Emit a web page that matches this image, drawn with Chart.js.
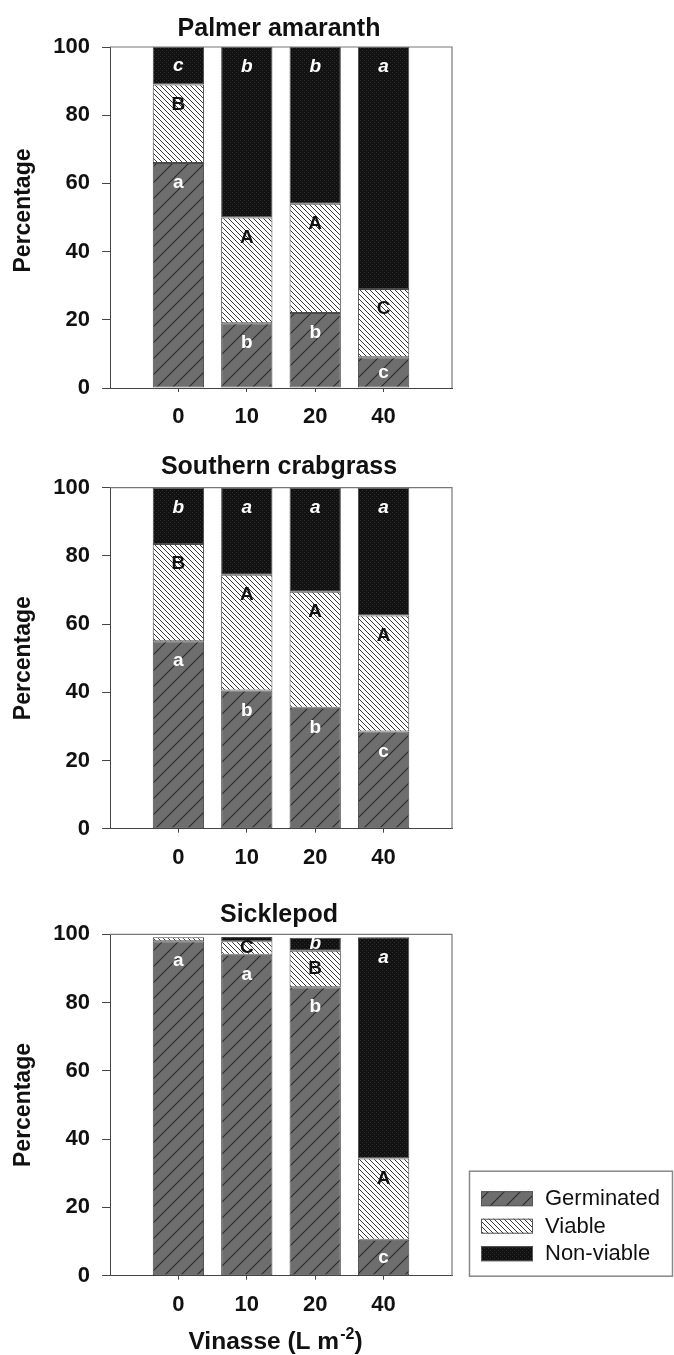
<!DOCTYPE html>
<html>
<head>
<meta charset="utf-8">
<script src="https://cdn.jsdelivr.net/npm/chart.js@4/dist/chart.umd.min.js"></script>
<style>
  html, body { margin: 0; padding: 0; background: #fff; }
  body { width: 674px; height: 1355px; position: relative; overflow: hidden; }
  canvas { position: absolute; left: 0; display: block; }
</style>
</head>
<body>
<canvas id="c1" width="674" height="440" style="top:0px"></canvas>
<canvas id="c2" width="674" height="440" style="top:440px"></canvas>
<canvas id="c3" width="674" height="475" style="top:880px"></canvas>
<script>
// ---------------- DATA ----------------
const categories = ['0', '10', '20', '40'];
const seriesNames = ['Germinated', 'Viable', 'Non-viable'];
const panelTitles = ['Palmer amaranth', 'Southern crabgrass', 'Sicklepod'];
const yAxisTitle = 'Percentage';
const xAxisTitleMain = 'Vinasse (L m';
const xAxisTitleSup = '-2';
const xAxisTitleEnd = ')';

const palmerGerminated = [66, 19, 22, 9];
const palmerViable = [23, 31, 32, 20];
const palmerNonViable = [11, 50, 46, 71];
const palmerGerminatedLetters = ['a', 'b', 'b', 'c'];
const palmerViableLetters = ['B', 'A', 'A', 'C'];
const palmerNonViableLetters = ['c', 'b', 'b', 'a'];

const crabgrassGerminated = [55, 40.5, 35.5, 28.5];
const crabgrassViable = [28.5, 34, 34, 34];
const crabgrassNonViable = [16.5, 25.5, 30.5, 37.5];
const crabgrassGerminatedLetters = ['a', 'b', 'b', 'c'];
const crabgrassViableLetters = ['B', 'A', 'A', 'A'];
const crabgrassNonViableLetters = ['b', 'a', 'a', 'a'];

const sicklepodGerminated = [98, 94, 84.5, 10.5];
const sicklepodViable = [1.1, 4, 10.7, 23.8];
const sicklepodNonViable = [0, 1.2, 3.8, 64.8];
const sicklepodGerminatedLetters = ['a', 'a', 'b', 'c'];
const sicklepodViableLetters = ['', 'C', 'B', 'A'];
const sicklepodNonViableLetters = ['', '', 'b', 'a'];

// ---------------- STYLE ----------------
const FONT = "'Liberation Sans', Arial, Helvetica, sans-serif";

function makePattern(kind) {
  const c = document.createElement('canvas');
  const g = c.getContext('2d');
  if (kind === 'germ') {
    const s = 16; c.width = s; c.height = s;
    g.fillStyle = '#6e6e6e'; g.fillRect(0, 0, s, s);
    g.strokeStyle = '#2a2a2a'; g.lineWidth = 1.1;
    g.beginPath();
    g.moveTo(-2, s + 2); g.lineTo(s + 2, -2);
    g.moveTo(-2, 2); g.lineTo(2, -2);
    g.moveTo(s - 2, s + 2); g.lineTo(s + 2, s - 2);
    g.stroke();
  } else if (kind === 'viable') {
    const s = 5; c.width = s; c.height = s;
    g.fillStyle = '#ffffff'; g.fillRect(0, 0, s, s);
    g.strokeStyle = '#3a3a3a'; g.lineWidth = 1;
    g.beginPath();
    g.moveTo(-1, -1); g.lineTo(s + 1, s + 1);
    g.moveTo(-1, s - 1); g.lineTo(1, s + 1);
    g.moveTo(s - 1, -1); g.lineTo(s + 1, 1);
    g.stroke();
  } else {
    const s = 4; c.width = s; c.height = s;
    g.fillStyle = '#121212'; g.fillRect(0, 0, s, s);
    g.fillStyle = '#2c2c2c';
    g.fillRect(0, 0, 1, 1); g.fillRect(2, 2, 1, 1);
  }
  return document.getElementById('c1').getContext('2d').createPattern(c, 'repeat');
}
const patterns = [makePattern('germ'), makePattern('viable'), makePattern('nonviable')];
const letterStyles = [
  { color: '#ffffff', font: 'bold 19px ' + FONT },
  { color: '#111111', font: 'bold 19px ' + FONT },
  { color: '#ffffff', font: 'italic bold 19px ' + FONT }
];

function toPoints(arr) { return arr.map((v, i) => ({ x: i, y: v })); }

function makeChart(id, cfg) {
  const canvas = document.getElementById(id);
  const series = [cfg.germ, cfg.viable, cfg.non];
  const letters = [cfg.germL, cfg.viableL, cfg.nonL];

  const framePlugin = {
    id: 'frame',
    afterDraw(chart) {
      const a = chart.chartArea, g = chart.ctx;
      g.save();
      g.strokeStyle = '#777'; g.lineWidth = 1.2;
      g.beginPath();
      g.moveTo(a.left, a.top); g.lineTo(a.right, a.top); g.lineTo(a.right, a.bottom);
      g.stroke();
      g.restore();
    }
  };

  const letterPlugin = {
    id: 'letters',
    afterDatasetsDraw(chart) {
      const g = chart.ctx;
      g.save();
      g.textAlign = 'center'; g.textBaseline = 'middle';
      for (let d = 0; d < 3; d++) {
        const meta = chart.getDatasetMeta(d);
        meta.data.forEach((el, i) => {
          const txt = letters[d][i];
          if (!txt) return;
          const top = Math.min(el.y, el.base), bot = Math.max(el.y, el.base);
          const y = top + Math.min(20, (bot - top) / 2);
          g.fillStyle = letterStyles[d].color;
          g.font = letterStyles[d].font;
          g.fillText(txt, el.x, y);
        });
      }
      g.restore();
    }
  };

  const textPlugin = {
    id: 'texts',
    afterDraw(chart) {
      const a = chart.chartArea, g = chart.ctx;
      g.save();
      g.fillStyle = '#111';
      // panel title
      g.font = 'bold 25px ' + FONT;
      g.textAlign = 'center'; g.textBaseline = 'alphabetic';
      g.fillText(cfg.title, (a.left + a.right) / 2 - 2, a.top - cfg.titleGap);
      // y title
      g.save();
      g.translate(24, (a.top + a.bottom) / 2 + cfg.yTitleShift);
      g.rotate(-Math.PI / 2);
      g.font = 'bold 23px ' + FONT;
      g.textAlign = 'center'; g.textBaseline = 'middle';
      g.fillText(yAxisTitle, 0, 0);
      g.restore();
      // x title
      if (cfg.xTitle) {
        const mainFont = 'bold 24.5px ' + FONT, supFont = 'bold 16px ' + FONT;
        g.font = mainFont; const w1 = g.measureText(xAxisTitleMain).width;
        const w3 = g.measureText(xAxisTitleEnd).width;
        g.font = supFont; const w2 = g.measureText(xAxisTitleSup).width;
        const total = w1 + w2 + w3;
        let x = (a.left + a.right) / 2 - 6 - total / 2;
        const base = a.bottom + 73;
        g.textAlign = 'left'; g.textBaseline = 'alphabetic';
        g.font = mainFont; g.fillText(xAxisTitleMain, x, base); x += w1;
        g.font = supFont; g.fillText(xAxisTitleSup, x + 1, base - 10); x += w2 + 1;
        g.font = mainFont; g.fillText(xAxisTitleEnd, x, base);
      }
      // legend
      if (cfg.legend) {
        const bx = 469.5, by = a.bottom - 104.5;
        g.strokeStyle = '#888'; g.lineWidth = 1.5;
        g.strokeRect(bx, by, 203, 105);
        g.font = '22px ' + FONT;
        g.textAlign = 'left'; g.textBaseline = 'middle';
        for (let k = 0; k < 3; k++) {
          const sy = by + 20 + k * 27.5;
          g.fillStyle = patterns[k];
          g.fillRect(481, sy, 52, 15);
          g.strokeStyle = '#555'; g.lineWidth = 1;
          g.strokeRect(481.5, sy + 0.5, 51, 14);
          g.fillStyle = '#111';
          g.fillText(seriesNames[k], 545, sy + 8);
        }
      }
      g.restore();
    }
  };

  return new Chart(canvas, {
    type: 'bar',
    data: {
      datasets: series.map((s, k) => ({
        label: seriesNames[k],
        data: toPoints(s),
        backgroundColor: patterns[k],
        borderColor: '#4a4a4a',
        borderWidth: 1,
        borderSkipped: false,
        categoryPercentage: 1,
        barPercentage: 0.75
      }))
    },
    options: {
      responsive: false,
      animation: false,
      events: [],
      layout: { padding: { top: cfg.top, right: 222, left: 0, bottom: 0 } },
      scales: {
        x: {
          type: 'linear', min: -1, max: 4, stacked: true, offset: false,
          afterBuildTicks: (s) => { s.ticks = categories.map((c, i) => ({ value: i })); },
          afterFit: (s) => { s.height = cfg.xh; },
          ticks: {
            callback: (v) => categories[v],
            autoSkip: false, maxRotation: 0, minRotation: 0, padding: 12,
            color: '#111', font: { family: FONT, size: 22, weight: 'bold' }
          },
          grid: { offset: false, drawOnChartArea: false, drawTicks: true, tickLength: 4, color: '#444', lineWidth: 1 },
          border: { display: true, color: '#444', width: 1 }
        },
        y: {
          stacked: true, min: 0, max: 100,
          afterFit: (s) => { s.width = 110; },
          ticks: {
            stepSize: 20, padding: 12, color: '#111',
            font: { family: FONT, size: 22, weight: 'bold' }
          },
          grid: { drawOnChartArea: false, drawTicks: true, tickLength: 8, color: '#444', lineWidth: 1 },
          border: { display: true, color: '#444', width: 1 }
        }
      },
      plugins: { legend: { display: false }, tooltip: { enabled: false }, title: { display: false } }
    },
    plugins: [framePlugin, letterPlugin, textPlugin]
  });
}

makeChart('c1', {
  title: panelTitles[0], top: 47, xh: 52, titleGap: 11, yTitleShift: -7,
  germ: palmerGerminated, viable: palmerViable, non: palmerNonViable,
  germL: palmerGerminatedLetters, viableL: palmerViableLetters, nonL: palmerNonViableLetters
});
makeChart('c2', {
  title: panelTitles[1], top: 47.7, xh: 51.3, titleGap: 14, yTitleShift: 0,
  germ: crabgrassGerminated, viable: crabgrassViable, non: crabgrassNonViable,
  germL: crabgrassGerminatedLetters, viableL: crabgrassViableLetters, nonL: crabgrassNonViableLetters
});
makeChart('c3', {
  title: panelTitles[2], top: 54.3, xh: 79.3, titleGap: 12.6, yTitleShift: 0, xTitle: true, legend: true,
  germ: sicklepodGerminated, viable: sicklepodViable, non: sicklepodNonViable,
  germL: sicklepodGerminatedLetters, viableL: sicklepodViableLetters, nonL: sicklepodNonViableLetters
});
</script>
</body>
</html>
